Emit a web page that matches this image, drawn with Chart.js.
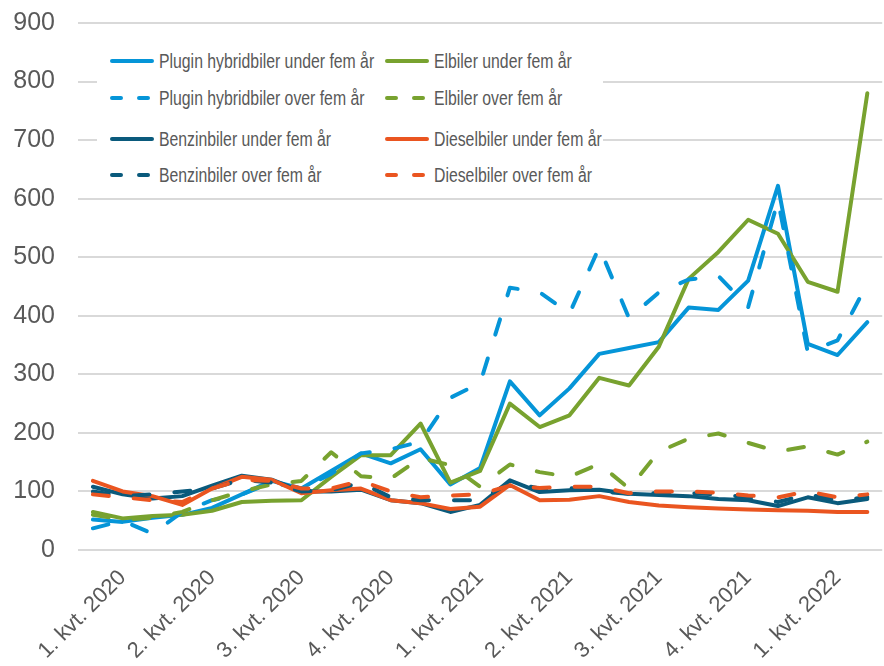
<!DOCTYPE html>
<html>
<head>
  <title>Bilsalg per måned</title>
  <script src="https://cdn.jsdelivr.net/npm/chart.js"></script>
  <style>
    body { margin: 0; overflow: hidden; background: #fff; }
    #wrap { position: relative; width: 884px; height: 666px; overflow: hidden; }
    #carChart { position: absolute; left: 0; top: -15px; }
    #legend { position: absolute; left: 97px; top: 42px; width: 506px; height: 152px; background: #fff; }
    .item { position: absolute; height: 22px; display: flex; align-items: center;
            font-family: "Liberation Sans", Arial, sans-serif;
            font-size: 20px; color: #595959; white-space: nowrap; }
    .item svg { margin-right: 3px; flex: none; }
    .item span { display: inline-block; transform: scaleX(0.79); transform-origin: left center; }
  </style>
</head>
<body>
  <div id="wrap">
    <canvas id="carChart" width="893" height="681"></canvas>
    <div id="legend"></div>
  </div>

  <script>
    // months Jan 2020 - Mar 2022, labelled on the middle month of each quarter
    const months = ['jan 2020', 'feb 2020', 'mar 2020', 'apr 2020', 'mai 2020', 'jun 2020',
      'jul 2020', 'aug 2020', 'sep 2020', 'okt 2020', 'nov 2020', 'des 2020',
      'jan 2021', 'feb 2021', 'mar 2021', 'apr 2021', 'mai 2021', 'jun 2021',
      'jul 2021', 'aug 2021', 'sep 2021', 'okt 2021', 'nov 2021', 'des 2021',
      'jan 2022', 'feb 2022', 'mar 2022'];
    const quarterTicks = ['1. kvt. 2020', '2. kvt. 2020', '3. kvt. 2020', '4. kvt. 2020',
      '1. kvt. 2021', '2. kvt. 2021', '3. kvt. 2021', '4. kvt. 2021', '1. kvt. 2022'];

    const plugUnder = [52, 48, 55, 60, 72, 95, 118, 105, 135, 165, 148, 172, 112, 140, 288, 230, 276, 335, 345, 355, 414, 410, 460, 622, 352, 333, 389];
    const elUnder   = [65, 54, 58, 60, 67, 82, 84, 85, 125, 162, 162, 216, 115, 135, 250, 210, 230, 294, 281, 347, 463, 509, 564, 540, 458, 441, 780];
    const plugOver  = [37, 50, 28, 65, 85, 95, 115, 105, 130, 165, 172, 185, 260, 285, 448, 440, 404, 517, 396, 440, 462, 468, 415, 597, 338, 358, 455];
    const elOver    = [60, 52, 55, 65, 85, 100, 112, 118, 167, 126, 122, 157, 145, 108, 146, 133, 125, 147, 105, 168, 190, 199, 183, 168, 177, 163, 185];
    const benUnder  = [108, 95, 88, 92, 110, 127, 120, 100, 100, 103, 85, 80, 65, 77, 119, 99, 102, 103, 96, 94, 92, 87, 85, 75, 90, 80, 87];
    const dieUnder  = [118, 100, 92, 77, 105, 125, 120, 97, 102, 105, 85, 80, 70, 74, 111, 85, 86, 92, 82, 76, 73, 71, 69, 68, 67, 65, 65];
    const benOver   = [100, 92, 95, 100, 105, 120, 115, 100, 102, 115, 90, 85, 85, 85, 115, 105, 106, 100, 96, 97, 97, 95, 90, 82, 95, 85, 90];
    const dieOver   = [95, 90, 85, 82, 105, 120, 118, 105, 105, 118, 100, 90, 93, 95, 110, 106, 108, 108, 97, 100, 100, 98, 93, 90, 100, 90, 95];

    const blue = '#0595d8', green = '#78a22f', navy = '#0a5a7c', orange = '#ea5520';
    const dash = [16, 25];

    // same order as the legend (row by row); later series sit on top
    const series = [
      { label: 'Plugin hybridbiler under fem år', data: plugUnder, color: blue, dashed: false },
      { label: 'Elbiler under fem år', data: elUnder, color: green, dashed: false },
      { label: 'Plugin hybridbiler over fem år', data: plugOver, color: blue, dashed: true },
      { label: 'Elbiler over fem år', data: elOver, color: green, dashed: true },
      { label: 'Benzinbiler under fem år', data: benUnder, color: navy, dashed: false },
      { label: 'Dieselbiler under fem år', data: dieUnder, color: orange, dashed: false },
      { label: 'Benzinbiler over fem år', data: benOver, color: navy, dashed: true },
      { label: 'Dieselbiler over fem år', data: dieOver, color: orange, dashed: true }
    ];

    const ctx = document.getElementById('carChart').getContext('2d');
    new Chart(ctx, {
      type: 'line',
      data: {
        labels: months,
        datasets: series.map((s, i) => ({
          label: s.label,
          data: s.data,
          borderColor: s.color,
          backgroundColor: s.color,
          borderWidth: 4,
          borderDash: s.dashed ? dash : [],
          borderCapStyle: 'round',
          borderJoinStyle: 'round',
          pointRadius: 0,
          tension: 0,
          order: series.length - i
        }))
      },
      options: {
        responsive: false,
        animation: false,
        layout: { padding: { top: 22, right: 0, left: 0, bottom: 0 } },
        plugins: { legend: { display: false }, tooltip: { enabled: false } },
        scales: {
          x: {
            offset: true,
            grid: { display: false },
            border: { display: false },
            afterFit: (scale) => { scale.height = 116; },
            ticks: {
              autoSkip: false,
              minRotation: 45,
              maxRotation: 45,
              padding: 7,
              color: '#595959',
              font: { family: 'Liberation Sans', size: 22 },
              callback: (v, i) => (i % 3 === 1 ? quarterTicks[(i - 1) / 3] : '')
            }
          },
          y: {
            min: 0,
            max: 900,
            afterFit: (scale) => { scale.width = 78; },
            grid: { color: '#d9d9d9', lineWidth: 2, drawTicks: false },
            border: { display: false },
            ticks: {
              stepSize: 100,
              padding: 23,
              color: '#595959',
              font: { family: 'Liberation Sans', size: 25 }
            }
          }
        }
      }
    });

    // legend sits inside the plot, two columns
    const legendPos = [
      [13, 19], [288, 19], [13, 56], [288, 56], [13, 97], [288, 97], [13, 133], [288, 133]
    ];
    const legend = document.getElementById('legend');
    series.forEach((s, i) => {
      const div = document.createElement('div');
      div.className = 'item';
      div.style.left = legendPos[i][0] + 'px';
      div.style.top = (legendPos[i][1] - 11) + 'px';
      const d = s.dashed ? 'stroke-dasharray="9 18"' : '';
      div.innerHTML = '<svg width="46" height="8"><line x1="2" y1="4" x2="42" y2="4" stroke="' + s.color +
        '" stroke-width="4" stroke-linecap="round" ' + d + '/></svg><span>' + s.label + '</span>';
      legend.appendChild(div);
    });
  </script>
</body>
</html>
